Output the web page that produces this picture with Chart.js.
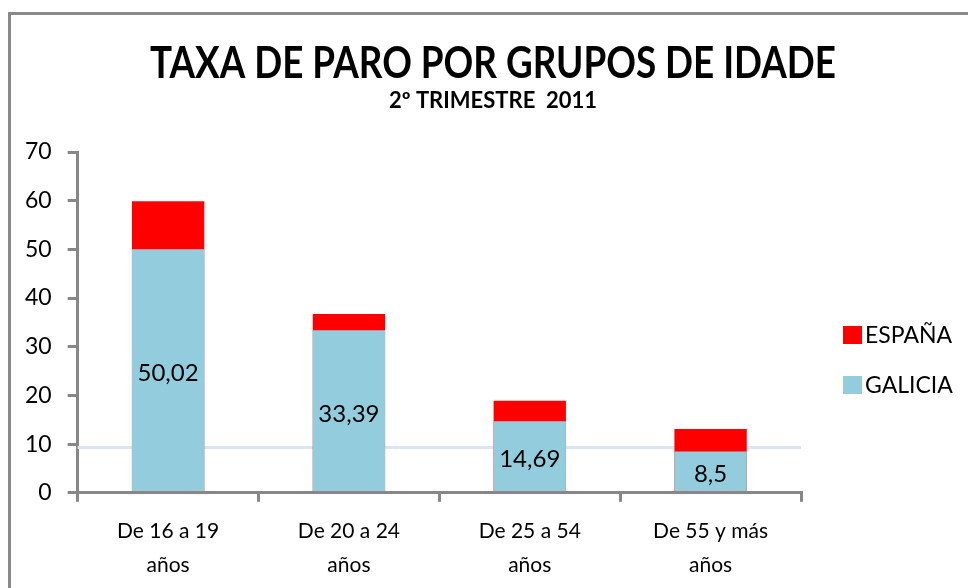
<!doctype html>
<html lang="gl">
  <head>
    <meta charset="utf-8">
    <title>Taxa de paro por grupos de idade</title>
    <style>
      html, body { margin: 0; padding: 0; background: #fff; }
      #caixa { position: relative; width: 968px; height: 588px; overflow: hidden; }
      #marco { position: absolute; left: 8px; top: 12px; width: 1000px; height: 620px; border-left: 3px solid #898989; border-top: 3px solid #898989; }
      #graficoParo { position: absolute; left: 0; top: 0; }
    </style>
  </head>
  <body>
    <div id="caixa">
      <div id="marco"></div>
      <canvas id="graficoParo" width="968" height="588"></canvas>
    </div>

    <script src="https://cdn.jsdelivr.net/npm/chart.js"></script>
    <script>
        // Datos
        const categorias = [['De 16 a 19', 'años'], ['De 20 a 24', 'años'], ['De 25 a 54', 'años'], ['De 55 y más', 'años']];
        const galicia = [50.02, 33.39, 14.69, 8.5];
        const espana = [59.9, 36.7, 18.9, 13.1];
        const ejeYMax = 70;
        const ejeYPaso = 10;
        const liñaRef = 9.3;

        const titulo = 'TAXA DE PARO POR GRUPOS DE IDADE';
        const subtitulo = '2º TRIMESTRE  2011';

        const corGalicia = '#93CDDD';
        const corEspana = '#FF0000';
        const corEixo = '#878787';
        const fonte = 'Lato, "Open Sans", sans-serif';

        function comaDecimal(v) {
            return String(v).replace('.', ',');
        }

        // texto centrado e apertado horizontalmente ata un ancho dado (a fonte orixinal é máis estreita)
        function textoAxustado(ctx, texto, x, y, ancho) {
            const w = ctx.measureText(texto).width;
            const k = Math.min(1, ancho / w);
            ctx.save();
            ctx.translate(x, y);
            ctx.scale(k, 1);
            ctx.fillText(texto, 0, 0);
            ctx.restore();
        }

        // liña horizontal clara detrás das barras
        const liñaPlugin = {
            id: 'linaRef',
            beforeDatasetsDraw(chart) {
                const {ctx, chartArea, scales} = chart;
                const y = scales.y.getPixelForValue(liñaRef);
                ctx.save();
                ctx.strokeStyle = '#DCE5F1';
                ctx.lineWidth = 3;
                ctx.beginPath();
                ctx.moveTo(chartArea.left, y);
                ctx.lineTo(chartArea.right, y);
                ctx.stroke();
                ctx.restore();
            }
        };

        // valores de Galicia no medio da barra
        const etiquetasPlugin = {
            id: 'etiquetas',
            afterDatasetsDraw(chart) {
                const {ctx} = chart;
                const meta = chart.getDatasetMeta(0);
                ctx.save();
                ctx.fillStyle = '#000';
                ctx.font = '24px ' + fonte;
                ctx.textAlign = 'center';
                ctx.textBaseline = 'middle';
                meta.data.forEach((barra, i) => {
                    const mid = (barra.y + barra.base) / 2;
                    ctx.fillText(comaDecimal(galicia[i]), barra.x, mid + 3);
                });
                ctx.restore();
            }
        };

        // título, subtítulo e lenda
        const textosPlugin = {
            id: 'textos',
            afterDraw(chart) {
                const {ctx} = chart;
                ctx.save();
                ctx.fillStyle = '#000';
                ctx.textAlign = 'center';
                ctx.textBaseline = 'alphabetic';
                ctx.font = 'bold 44px ' + fonte;
                textoAxustado(ctx, titulo, 493, 78, 686);
                ctx.font = 'bold 22px ' + fonte;
                textoAxustado(ctx, subtitulo, 493, 108, 217);

                const lenda = [
                    {texto: 'ESPAÑA', cor: corEspana, y: 335},
                    {texto: 'GALICIA', cor: corGalicia, y: 385}
                ];
                ctx.textAlign = 'left';
                ctx.textBaseline = 'middle';
                ctx.font = '23px ' + fonte;
                lenda.forEach(l => {
                    ctx.fillStyle = l.cor;
                    ctx.fillRect(843, l.y - 9, 19, 18);
                    ctx.fillStyle = '#000';
                    ctx.fillText(l.texto, 865, l.y + 1);
                });
                ctx.restore();
            }
        };

        const grafico = new Chart(document.getElementById('graficoParo'), {
            type: 'bar',
            data: {
                labels: categorias,
                datasets: [{
                    label: 'GALICIA',
                    data: galicia,
                    backgroundColor: corGalicia,
                    barPercentage: 0.4,
                    categoryPercentage: 1
                }, {
                    label: 'ESPAÑA',
                    data: espana,
                    backgroundColor: corEspana,
                    barPercentage: 0.4,
                    categoryPercentage: 1
                }]
            },
            options: {
                responsive: false,
                animation: false,
                grouped: false,
                layout: {
                    padding: {top: 152, left: 9, right: 167, bottom: -7}
                },
                plugins: {
                    legend: {display: false},
                    tooltip: {enabled: false}
                },
                scales: {
                    x: {
                        grid: {
                            drawOnChartArea: false,
                            color: corEixo,
                            lineWidth: 3,
                            tickLength: 9
                        },
                        border: {color: corEixo, width: 3},
                        ticks: {
                            color: '#000',
                            padding: 13,
                            maxRotation: 0,
                            font: {family: fonte, size: 21, lineHeight: 1.6}
                        }
                    },
                    y: {
                        min: 0,
                        max: ejeYMax,
                        grid: {
                            drawOnChartArea: false,
                            color: corEixo,
                            lineWidth: 3,
                            tickLength: 10
                        },
                        border: {color: corEixo, width: 3},
                        ticks: {
                            stepSize: ejeYPaso,
                            color: '#000',
                            padding: 16,
                            font: {family: fonte, size: 23}
                        }
                    }
                }
            },
            plugins: [liñaPlugin, etiquetasPlugin, textosPlugin]
        });
    </script>
  </body>
</html>
